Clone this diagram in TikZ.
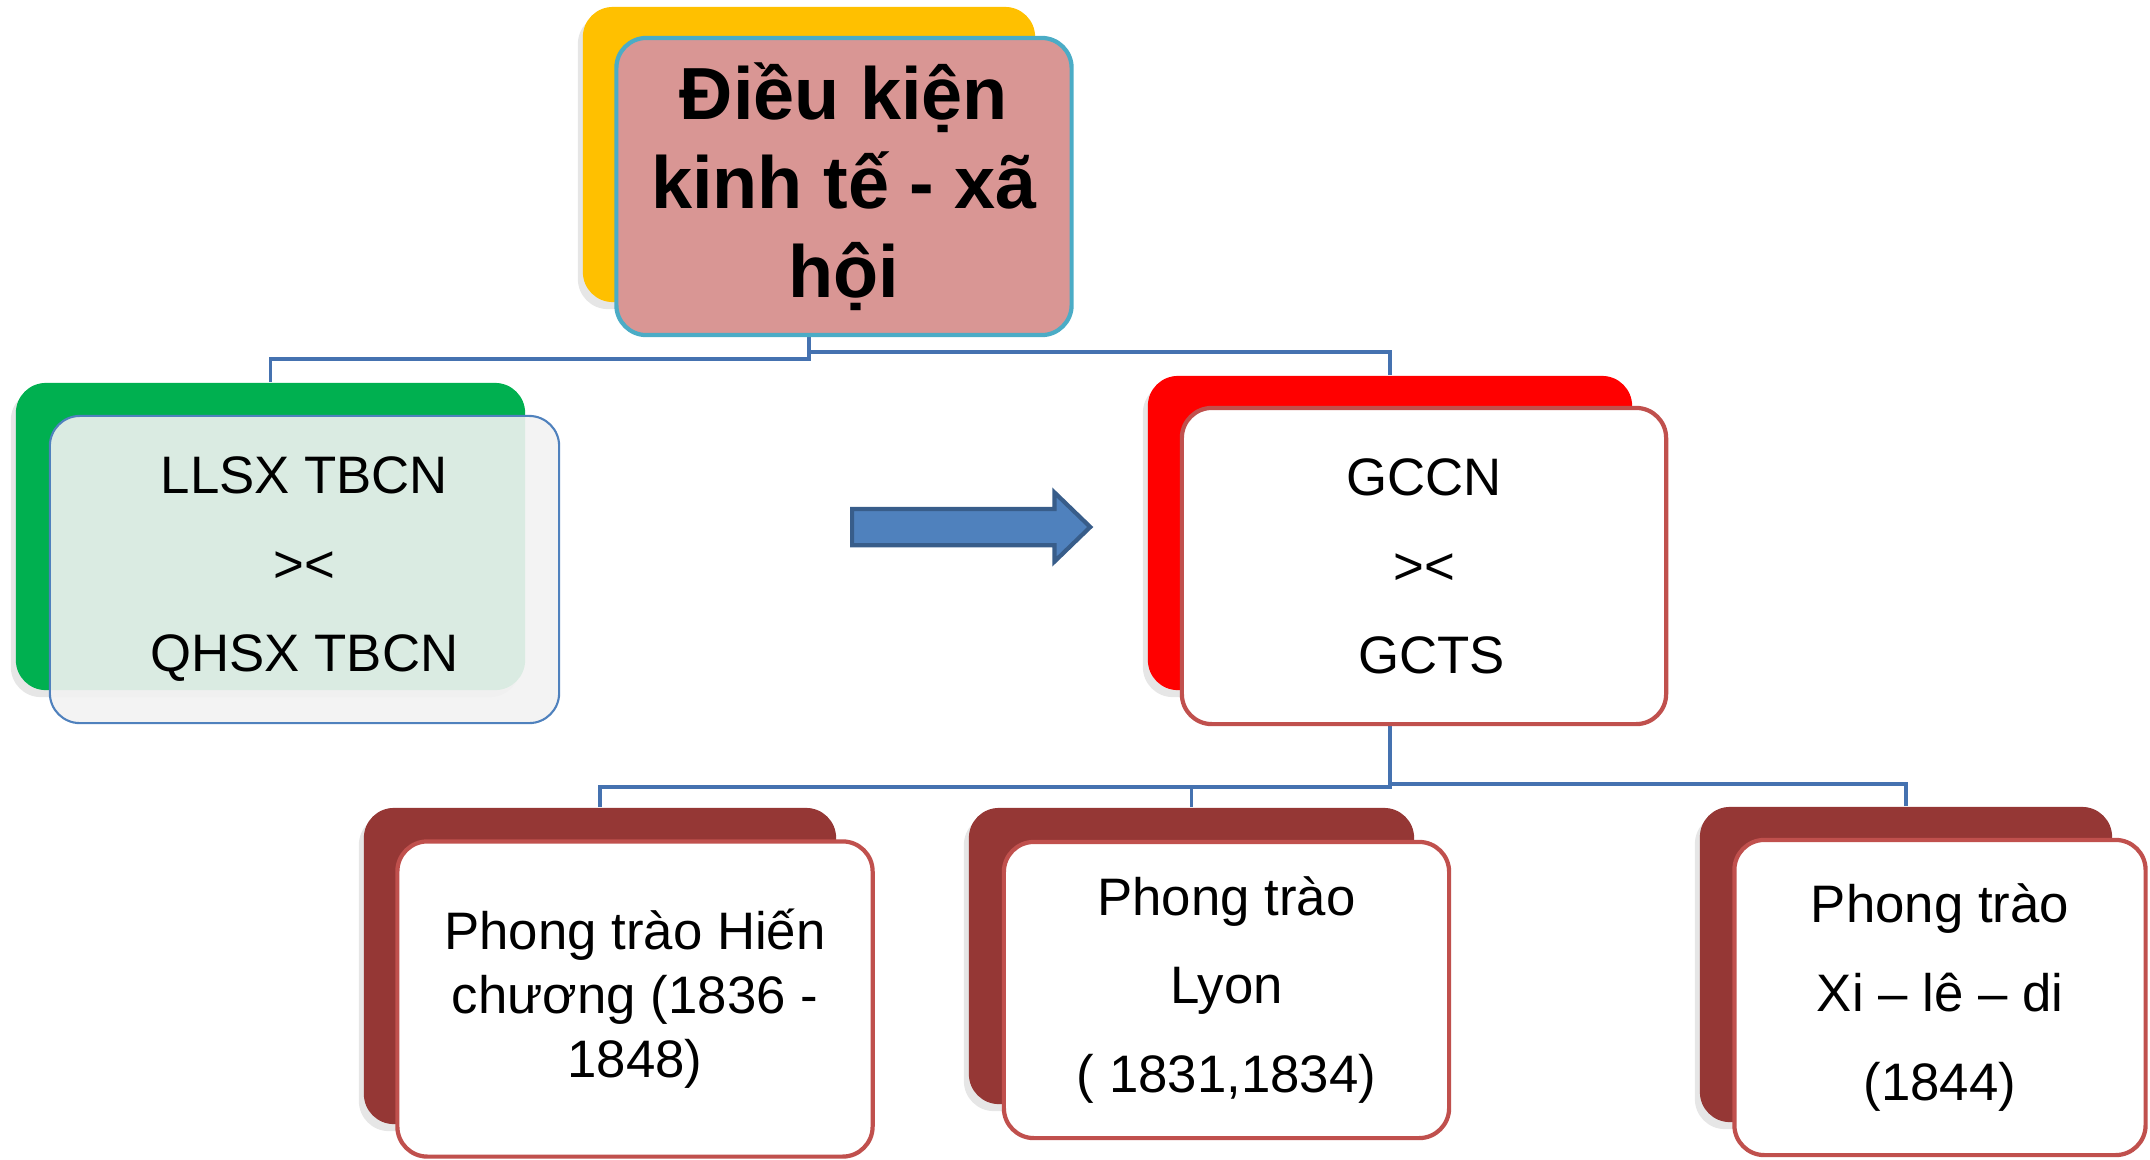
\documentclass[tikz,border=0pt]{standalone}
\usepackage{fontspec}
\setmainfont{Liberation Sans}
\usepackage{tikz}
\usetikzlibrary{arrows,positioning,shapes,calc,backgrounds,shadows}
\usepackage{xcolor}

\definecolor{gold}{RGB}{255,192,0}
\definecolor{rose}{RGB}{217,150,148}
\definecolor{teal}{RGB}{75,172,198}
\definecolor{grass}{RGB}{0,176,80}
\definecolor{steel}{RGB}{79,129,189}
\definecolor{steeldark}{RGB}{56,93,138}
\definecolor{brick}{RGB}{192,80,77}
\definecolor{wine}{RGB}{149,55,53}
\definecolor{linkblue}{RGB}{69,114,176}

\tikzset{
  backbox/.style={rounded corners=0.3cm,inner sep=0pt,
    drop shadow={shadow xshift=-0.5mm,shadow yshift=-0.7mm,opacity=0.2}},
  frontbox/.style={rounded corners=0.3cm,inner sep=0pt,align=center,
    font=\fontsize{15}{25.3}\selectfont},
  link/.style={draw=linkblue,line width=1.1pt}
}

\begin{document}
\begin{tikzpicture}[x=0.01cm,y=-0.01cm]
    \useasboundingbox (0,0) rectangle (2150,1159);
    % back cards
    \node[backbox,fill=gold,minimum width=4.52cm,minimum height=2.95cm] (titleback) at (809,154.5) {};
    \node[backbox,fill=grass,minimum width=5.09cm,minimum height=3.07cm] (llsxback) at (270.5,536.5) {};
    \node[backbox,fill=red,minimum width=4.84cm,minimum height=3.14cm] (gccnback) at (1390,533) {};
    \node[backbox,fill=wine,minimum width=4.72cm,minimum height=3.16cm] (hcback) at (600,966) {};
    \node[backbox,fill=wine,minimum width=4.45cm,minimum height=2.96cm] (lyonback) at (1191.5,956) {};
    \node[backbox,fill=wine,minimum width=4.12cm,minimum height=3.15cm] (xldback) at (1906,964.5) {};
    % connectors
    \draw[link] (titleback.south) -- ++(0,56) -| (llsxback.north);
    \draw[link] (titleback.south) -- ++(0,49) -| (gccnback.north);
    \draw[link] (gccnback.south) -- ++(0,93) -| (xldback.north);
    \draw[link] (gccnback.south) -- ++(0,96) -| (hcback.north);
    \draw[link] (gccnback.south) -- ++(0,96) -| (lyonback.north);
    % front cards
    \node[frontbox,draw=teal,line width=1.2pt,fill=rose,minimum width=4.55cm,minimum height=2.97cm,
      font=\bfseries\fontsize{21}{25.3}\selectfont] (title) at ($(titleback)+(35,32)$)
      {Điều kiện\\kinh tế - xã\\hội};
    \node[frontbox,draw=steel,line width=0.6pt,fill=white!95!black,fill opacity=0.9,text opacity=1,
      minimum width=5.09cm,minimum height=3.07cm] (llsx) at ($(llsxback)+(34,33)$)
      {LLSX TBCN\\><\\QHSX TBCN};
    \node[frontbox,draw=brick,line width=1.2pt,fill=white,minimum width=4.84cm,minimum height=3.16cm]
      (gccn) at ($(gccnback)+(34,33)$) {GCCN\\><\\\ GCTS};
    \node[frontbox,draw=brick,line width=1.2pt,fill=white,minimum width=4.75cm,minimum height=3.15cm,
      font=\fontsize{15}{18.2}\selectfont] (hc) at ($(hcback)+(35,33)$)
      {Phong trào Hiến\\chương (1836 -\\1848)};
    \node[frontbox,draw=brick,line width=1.2pt,fill=white,minimum width=4.45cm,minimum height=2.96cm]
      (lyon) at ($(lyonback)+(35,34)$) {Phong trào\\Lyon\\( 1831,1834)};
    \node[frontbox,draw=brick,line width=1.2pt,fill=white,minimum width=4.11cm,minimum height=3.15cm]
      (xld) at ($(xldback)+(34,33)$) {Phong trào\\Xi – lê – di\\(1844)};
    % block arrow
    \node[single arrow,draw=steeldark,line width=1.2pt,fill=steel,inner xsep=0pt,inner ysep=0.16cm,
      minimum height=2.38cm,single arrow head extend=0.165cm,
      single arrow tip angle=88,anchor=tail] (shift) at (850,527) {};
  \end{tikzpicture}
\end{document}
